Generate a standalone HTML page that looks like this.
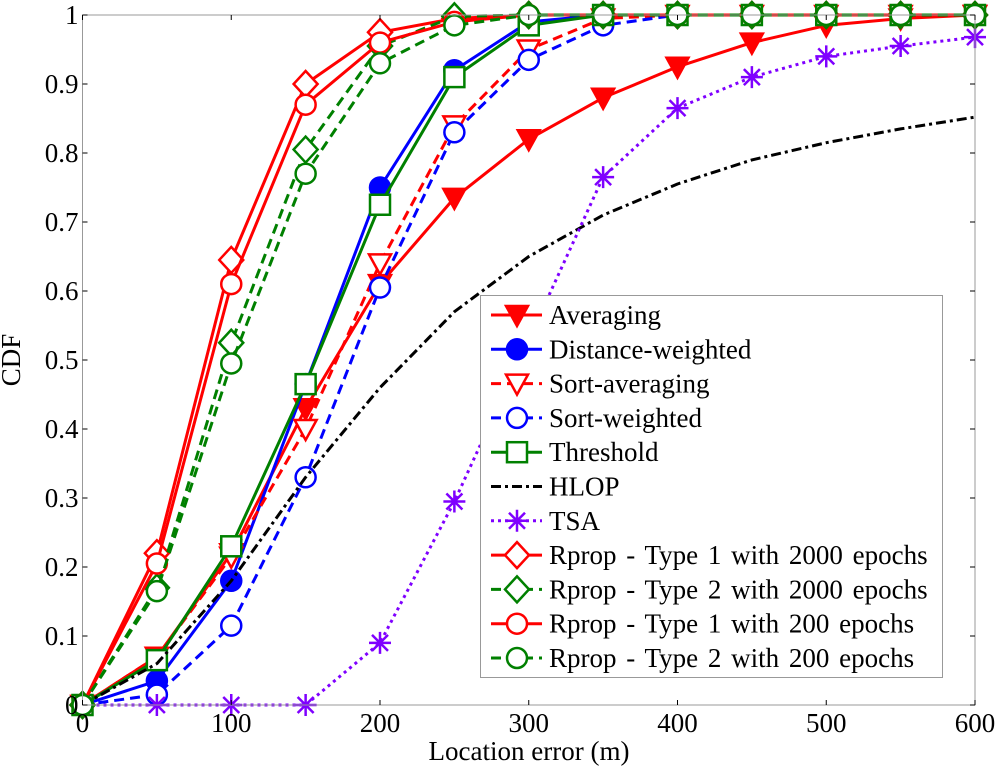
<!DOCTYPE html>
<html><head><meta charset="utf-8"><style>
html,body{margin:0;padding:0;background:#fff;}
svg{display:block;font-family:"Liberation Serif",serif;}
</style></head><body>
<svg id="chart" width="1000" height="773" viewBox="0 0 1000 773" xmlns="http://www.w3.org/2000/svg">
<rect x="0" y="0" width="1000" height="773" fill="#fff"/>
<g id="plot"></g>
<g id="axes"></g>
<g id="legend"></g>
<text x="529" y="760" font-size="27" text-anchor="middle">Location error (m)</text>
<text x="0" y="0" font-size="27" text-anchor="middle" transform="translate(20,360) rotate(-90)">CDF</text>
</svg>
<script>
const xs = [0,50,100,150,200,250,300,350,400,450,500,550,600];
const xTicks = [0,100,200,300,400,500,600];
const yTicks = [0,0.1,0.2,0.3,0.4,0.5,0.6,0.7,0.8,0.9,1];
const yTickLabels = ["0","0.1","0.2","0.3","0.4","0.5","0.6","0.7","0.8","0.9","1"];
const averaging = [0,0.07,0.22,0.43,0.61,0.735,0.82,0.88,0.925,0.96,0.985,0.995,1];
const distanceWeighted = [0,0.035,0.18,0.465,0.75,0.92,0.99,1,1,1,1,1,1];
const sortAveraging = [0,0.07,0.215,0.40,0.64,0.84,0.95,0.995,1,1,1,1,1];
const sortWeighted = [0,0.015,0.115,0.33,0.605,0.83,0.935,0.985,1,1,1,1,1];
const threshold = [0,0.065,0.23,0.465,0.725,0.91,0.985,1,1,1,1,1,1];
const hlop = [0,0.06,0.18,0.33,0.46,0.57,0.65,0.71,0.755,0.79,0.815,0.835,0.852];
const tsa = [0,0,0,0,0.09,0.295,0.53,0.765,0.865,0.91,0.94,0.955,0.968];
const rprop1_2000 = [0,0.22,0.645,0.90,0.975,0.995,1,1,1,1,1,1,1];
const rprop2_2000 = [0,0.17,0.525,0.805,0.955,0.998,1,1,1,1,1,1,1];
const rprop1_200 = [0,0.205,0.61,0.87,0.96,0.99,1,1,1,1,1,1,1];
const rprop2_200 = [0,0.165,0.495,0.77,0.93,0.985,1,1,1,1,1,1,1];
const seriesNames = ["Averaging","Distance-weighted","Sort-averaging","Sort-weighted","Threshold","HLOP","TSA","Rprop - Type 1 with 2000 epochs","Rprop - Type 2 with 2000 epochs","Rprop - Type 1 with 200 epochs","Rprop - Type 2 with 200 epochs"];
const seriesValues = [averaging,distanceWeighted,sortAveraging,sortWeighted,threshold,hlop,tsa,rprop1_2000,rprop2_2000,rprop1_200,rprop2_200];

const styles = [
 {c:"#ff0000",dash:"",m:"tri",fill:true},
 {c:"#0000ff",dash:"",m:"circ",fill:true},
 {c:"#ff0000",dash:"10,6",m:"tri",fill:false},
 {c:"#0000ff",dash:"10,6",m:"circ",fill:false},
 {c:"#008000",dash:"",m:"sq",fill:false},
 {c:"#000000",dash:"10,4,3,4",m:"none",fill:false},
 {c:"#7f00ff",dash:"3,4",m:"star",fill:false},
 {c:"#ff0000",dash:"",m:"dia",fill:false},
 {c:"#008000",dash:"10,6",m:"dia",fill:false},
 {c:"#ff0000",dash:"",m:"circ",fill:false},
 {c:"#008000",dash:"10,6",m:"circ",fill:false}
];
const NS="http://www.w3.org/2000/svg";
const L=82.5,R=975,T=15,B=705;
function sx(v){return L+(v/600)*(R-L);}
function sy(v){return B-v*(B-T);}
function mk(tag,attrs,parent){const e=document.createElementNS(NS,tag);for(const k in attrs)e.setAttribute(k,attrs[k]);parent.appendChild(e);return e;}
function marker(g,type,x,y,c,fill,name){
 let e;
 const f=fill?c:"#fff";
 if(type==="tri"){e=mk("path",{d:`M${x-11},${y-9} L${x+11},${y-9} L${x},${y+11} Z`,fill:f,stroke:c,"stroke-width":2.5},g);}
 else if(type==="circ"){e=mk("circle",{cx:x,cy:y,r:10,fill:f,stroke:c,"stroke-width":2.5},g);}
 else if(type==="sq"){e=mk("rect",{x:x-10,y:y-10,width:20,height:20,fill:f,stroke:c,"stroke-width":2.5},g);}
 else if(type==="dia"){e=mk("path",{d:`M${x},${y-13} L${x+12},${y} L${x},${y+13} L${x-12},${y} Z`,fill:f,stroke:c,"stroke-width":2.5},g);}
 else if(type==="star"){e=mk("path",{d:`M${x-11},${y} L${x+11},${y} M${x},${y-11} L${x},${y+11} M${x-8},${y-8} L${x+8},${y+8} M${x-8},${y+8} L${x+8},${y-8}`,fill:"none",stroke:c,"stroke-width":2.5},g);}
 else return;
 
 
}
const plot=document.getElementById("plot");
const axes=document.getElementById("axes");
const frame=mk("rect",{x:L,y:T,width:R-L,height:B-T,fill:"none",stroke:"#999","stroke-width":1},axes);


yTicks.forEach((v,i)=>{
 const y=sy(v);
 const t=mk("line",{x1:L,y1:y,x2:L+5,y2:y,stroke:"#000","stroke-width":1},axes);
 
 
 const t2=mk("line",{x1:R,y1:y,x2:R-5,y2:y,stroke:"#000","stroke-width":1},axes);
 
 
 const lb=mk("text",{x:L-4,y:y+9,"font-size":27,"text-anchor":"end"},axes);
 lb.textContent=yTickLabels[i];
 
 
});
xTicks.forEach(v=>{
 const x=sx(v);
 const t=mk("line",{x1:x,y1:B,x2:x,y2:B-5,stroke:"#000","stroke-width":1},axes);
 
 
 const t2=mk("line",{x1:x,y1:T,x2:x,y2:T+5,stroke:"#000","stroke-width":1},axes);
 
 
 const lb=mk("text",{x:x,y:B+27,"font-size":27,"text-anchor":"middle"},axes);
 lb.textContent=String(v);
 
 
});
seriesValues.forEach((vals,si)=>{
 const st=styles[si];
 const g=mk("g",{},plot);
 
 
 const pts=vals.map((v,i)=>sx(xs[i]).toFixed(1)+","+sy(v).toFixed(1)).join(" ");
 const pl=mk("polyline",{points:pts,fill:"none",stroke:st.c,"stroke-width":3,"stroke-dasharray":st.dash,"stroke-linejoin":"round"},g);
 
 
 vals.forEach((v,i)=>marker(g,st.m,sx(xs[i]),sy(v),st.c,st.fill,'data-point'));
});
const lg=document.getElementById("legend");
const box=mk("rect",{x:480.5,y:295.5,width:462,height:382,fill:"#fff",stroke:"#999","stroke-width":1},lg);


seriesNames.forEach((n,i)=>{
 const st=styles[i];
 const y=315+i*34.3;
 const g=mk("g",{},lg);
 
 
 mk("line",{x1:491,y1:y,x2:542,y2:y,stroke:st.c,"stroke-width":3,"stroke-dasharray":st.dash},g);
 marker(g,st.m,517,y,st.c,st.fill,'legend-marker');
 const t=mk("text",{x:549,y:y+9,"font-size":27,"word-spacing":"3"},g);
 t.textContent=n;
 
 
});
</script>
</body></html>
